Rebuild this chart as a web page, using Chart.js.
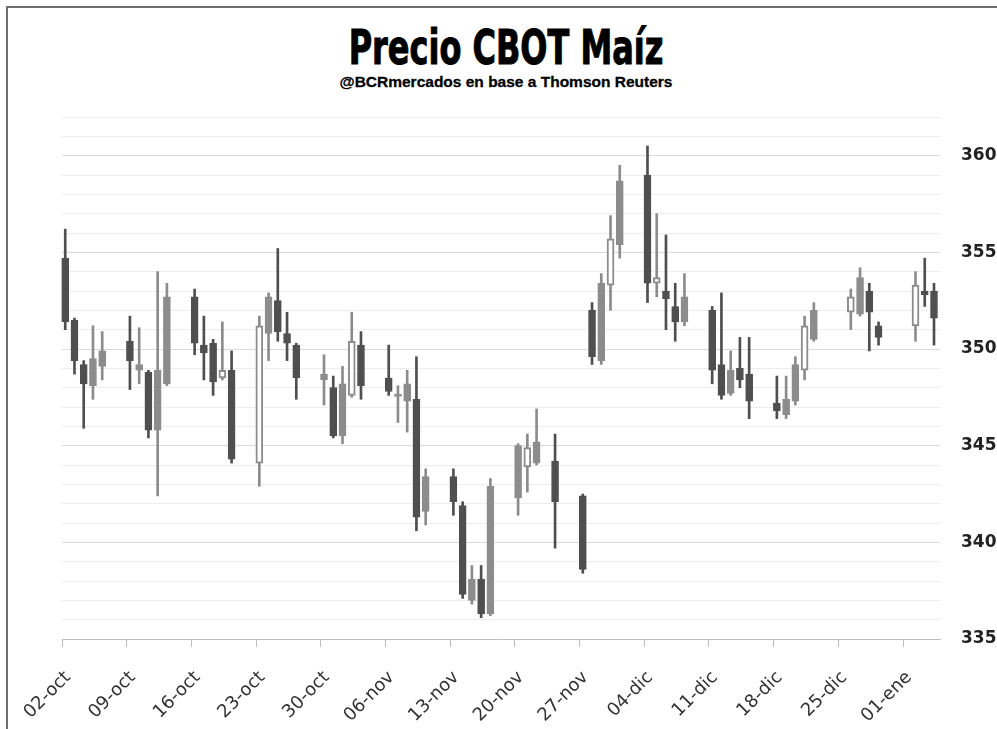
<!DOCTYPE html>
<html>
<head>
<meta charset="utf-8">
<script src="https://cdn.jsdelivr.net/npm/chart.js@4.4.1/dist/chart.umd.min.js"></script>
<style>
  html, body { margin: 0; padding: 0; background: #fff; }
  #wrap { position: relative; width: 997px; height: 729px; overflow: hidden; }
  #marco { position: absolute; left: 6px; top: 6px; width: 1200px; height: 1000px;
           border-left: 2px solid #6e6e6e; border-top: 2px solid #6e6e6e; }
  #titulo { position: absolute; left: 0; width: 1012px; top: 23px; text-align: center;
            font: bold 48px "DejaVu Sans Condensed", "DejaVu Sans", sans-serif;
            line-height: 48px; color: #000; -webkit-text-stroke: 1px #000;
            transform: scaleX(0.74); transform-origin: 50% 50%; }
  #subtitulo { position: absolute; left: 0; width: 1012px; top: 74px; text-align: center;
               font: bold 15.5px "Liberation Sans", sans-serif; line-height: 16px; color: #000;
               -webkit-text-stroke: 0.3px #000; }
  canvas { position: absolute; left: 0; top: 0; }
</style>
</head>
<body>
<div id="wrap">
  <div id="marco"></div>
  <div id="titulo">Precio CBOT Maíz</div>
  <div id="subtitulo">@BCRmercados en base a Thomson Reuters</div>
  <canvas id="grafico" width="997" height="729"></canvas>
</div>
<script>
// datos diarios (centavos/bushel)
const fechas = [
  '2017-10-02', '2017-10-03', '2017-10-04', '2017-10-05', '2017-10-06',
  '2017-10-09', '2017-10-10', '2017-10-11', '2017-10-12', '2017-10-13',
  '2017-10-16', '2017-10-17', '2017-10-18', '2017-10-19', '2017-10-20',
  '2017-10-23', '2017-10-24', '2017-10-25', '2017-10-26', '2017-10-27',
  '2017-10-30', '2017-10-31', '2017-11-01', '2017-11-02', '2017-11-03',
  '2017-11-06', '2017-11-07', '2017-11-08', '2017-11-09', '2017-11-10',
  '2017-11-13', '2017-11-14', '2017-11-15', '2017-11-16', '2017-11-17',
  '2017-11-20', '2017-11-21', '2017-11-22', '2017-11-24',
  '2017-11-27', '2017-11-28', '2017-11-29', '2017-11-30', '2017-12-01',
  '2017-12-04', '2017-12-05', '2017-12-06', '2017-12-07', '2017-12-08',
  '2017-12-11', '2017-12-12', '2017-12-13', '2017-12-14', '2017-12-15',
  '2017-12-18', '2017-12-19', '2017-12-20', '2017-12-21', '2017-12-22',
  '2017-12-26', '2017-12-27', '2017-12-28', '2017-12-29',
  '2018-01-02', '2018-01-03', '2018-01-04'
];
const apertura = [
  354.7, 351.5, 349.2, 348.1, 349.1,
  350.4, 348.9, 348.8, 345.8, 348.2,
  352.7, 350.2, 350.3, 348.5, 348.9,
  344.1, 350.8, 352.5, 350.8, 350.2,
  348.4, 348.0, 345.5, 347.6, 350.2,
  348.5, 347.55, 347.3, 347.4, 341.6,
  343.4, 341.9, 337.0, 338.1, 336.3,
  342.3, 343.9, 344.1, 344.2,
  342.4, 352.0, 349.4, 353.3, 355.4,
  359.0, 353.4, 353.0, 352.2, 351.4,
  352.0, 349.2, 347.7, 349.0, 348.7,
  347.2, 346.6, 347.3, 348.9, 350.5,
  351.9, 351.8, 353.0, 351.2,
  351.2, 353.0, 353.0
];
const maximo = [
  356.2, 351.6, 349.4, 351.2, 350.9,
  351.7, 351.1, 348.9, 354.0, 353.4,
  353.1, 351.7, 350.5, 351.4, 349.9,
  351.7, 352.9, 355.2, 351.9, 350.3,
  349.7, 348.6, 349.1, 351.9, 350.9,
  350.2, 348.1, 348.9, 349.6, 343.8,
  343.8, 342.1, 338.8, 338.8, 343.3,
  345.1, 345.6, 346.9, 345.6,
  342.5, 352.4, 353.9, 356.9, 359.5,
  360.5, 357.0, 355.9, 353.4, 353.9,
  352.2, 352.9, 349.9, 350.6, 350.6,
  348.6, 348.6, 349.6, 351.7, 352.4,
  353.1, 354.2, 353.4, 351.4,
  354.0, 354.7, 353.4
];
const minimo = [
  351.0, 348.7, 345.9, 347.4, 348.4,
  347.9, 348.2, 345.4, 342.4, 348.1,
  349.7, 348.4, 347.6, 348.4, 344.1,
  342.9, 349.4, 350.4, 349.4, 347.4,
  347.1, 345.4, 345.1, 347.5, 347.4,
  347.6, 346.2, 345.7, 340.6, 340.9,
  341.4, 337.1, 336.8, 336.1, 336.2,
  341.4, 342.6, 344.0, 339.7,
  338.4, 349.2, 349.2, 352.0, 354.7,
  352.4, 352.7, 351.0, 350.4, 351.2,
  348.2, 347.4, 347.6, 348.0, 346.4,
  346.4, 346.4, 347.1, 348.4, 350.4,
  351.0, 351.7, 349.9, 350.2,
  350.4, 352.2, 350.2
];
const cierre = [
  351.4, 349.4, 348.2, 349.5, 349.9,
  349.4, 349.2, 345.8, 348.9, 352.7,
  350.3, 349.8, 348.3, 348.9, 344.3,
  351.2, 352.7, 350.9, 350.3, 348.5,
  348.7, 345.5, 348.2, 350.4, 348.1,
  347.8, 347.65, 348.2, 341.3, 343.4,
  342.1, 337.3, 338.1, 336.3, 342.9,
  345.0, 344.9, 345.2, 342.1,
  338.6, 349.6, 353.4, 355.7, 358.7,
  353.4, 353.7, 352.6, 351.4, 352.7,
  348.9, 347.6, 348.9, 348.4, 347.3,
  346.8, 347.4, 349.2, 351.2, 352.0,
  352.7, 353.7, 351.9, 350.6,
  353.3, 352.8, 351.6
];
const marcasY = [335, 340, 345, 350, 355, 360];
const meses = ['ene', 'feb', 'mar', 'abr', 'may', 'jun', 'jul', 'ago', 'sep', 'oct', 'nov', 'dic'];

// velas que en el original aparecen sin relleno
const huecas = new Set(['2017-10-19', '2017-10-23', '2017-11-02', '2017-11-21', '2017-11-30',
                        '2017-12-05', '2017-12-21', '2017-12-26', '2018-01-02']);

const DIA = 86400000;
const inicio = Date.UTC(2017, 9, 2);
const dias = fechas.map(f => {
  const [a, m, d] = f.split('-').map(Number);
  return Math.round((Date.UTC(a, m - 1, d) - inicio) / DIA);
});

const GRIS_SUBE = '#8c8c8c';
const GRIS_BAJA = '#4f4f4f';
const sube = i => cierre[i] >= apertura[i];
const colorVela = i => sube(i) ? GRIS_SUBE : GRIS_BAJA;

const cuerpos = fechas.map((f, i) => ({ x: dias[i], y: [apertura[i], cierre[i]] }));
const mechas = fechas.map((f, i) => ({ x: dias[i], y: [minimo[i], maximo[i]] }));

// en el original las velas caen un poco a la derecha de la marca del dia
const CORRIMIENTO = 0.35;

const ctx = document.getElementById('grafico').getContext('2d');

new Chart(ctx, {
  type: 'bar',
  data: {
    datasets: [
      {
        label: 'Cuerpo',
        data: cuerpos,
        xAxisID: 'x',
        order: 0,
        grouped: false,
        clip: false,
        barThickness: 7,
        borderSkipped: false,
        backgroundColor: c => huecas.has(fechas[c.dataIndex]) ? '#ffffff' : colorVela(c.dataIndex),
        borderColor: c => colorVela(c.dataIndex),
        borderWidth: c => huecas.has(fechas[c.dataIndex]) ? 2 : 1
      },
      {
        label: 'Rango',
        data: mechas,
        xAxisID: 'x',
        order: 1,
        grouped: false,
        clip: false,
        barThickness: 2,
        borderSkipped: false,
        borderWidth: 0,
        backgroundColor: c => colorVela(c.dataIndex)
      }
    ]
  },
  options: {
    responsive: false,
    animation: false,
    layout: { padding: { top: 117, left: 62, right: 0, bottom: 0 } },
    plugins: {
      legend: { display: false },
      tooltip: { enabled: false }
    },
    scales: {
      x: {
        type: 'linear',
        display: false,
        offset: false,
        min: -CORRIMIENTO,
        max: 95 - CORRIMIENTO
      },
      fechasX: {
        type: 'linear',
        position: 'bottom',
        offset: false,
        min: 0,
        max: 95,
        afterFit: s => { s.height = 90; },
        border: { color: '#bfbfbf', width: 1 },
        grid: { offset: false, drawOnChartArea: false, drawTicks: true, tickLength: 8, color: '#bfbfbf' },
        ticks: {
          stepSize: 7,
          includeBounds: false,
          autoSkip: false,
          minRotation: 45,
          maxRotation: 45,
          padding: 20,
          labelOffset: 6,
          color: '#333333',
          font: { family: 'DejaVu Sans', size: 18 },
          callback: v => {
            const f = new Date(inicio + v * DIA);
            return String(f.getUTCDate()).padStart(2, '0') + '-' + meses[f.getUTCMonth()];
          }
        }
      },
      y: {
        position: 'right',
        min: 335,
        max: 362,
        afterFit: s => { s.width = 57; },
        border: { display: false },
        grid: {
          drawTicks: false,
          color: c => c.tick && c.tick.value % 5 === 0 ? '#dadada' : '#ededed'
        },
        ticks: {
          stepSize: 1,
          autoSkip: false,
          padding: 21,
          color: '#222222',
          font: { family: 'DejaVu Sans', size: 17, weight: 'bold' },
          callback: v => marcasY.includes(v) ? v : ''
        }
      }
    }
  }
});
</script>
</body>
</html>
